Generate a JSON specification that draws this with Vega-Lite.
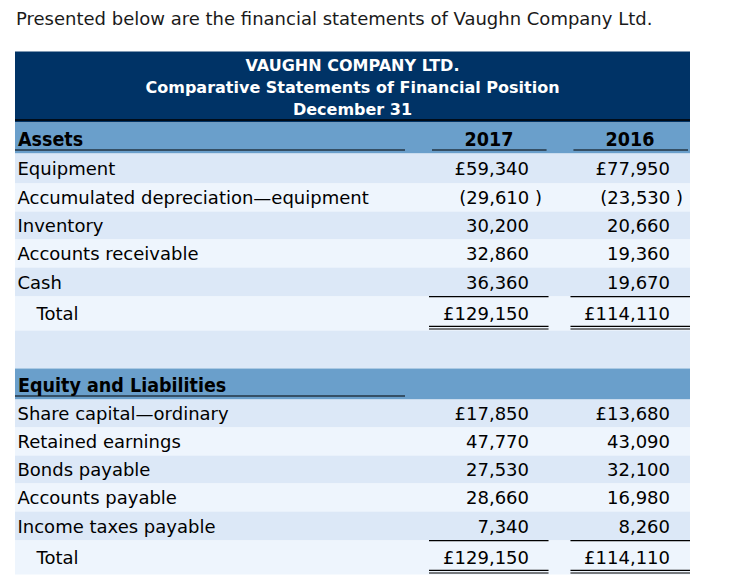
{
  "$schema": "https://vega.github.io/schema/vega-lite/v6.json",
  "width": 675,
  "height": 523,
  "autosize": {"type": "none"},
  "padding": {"left": 15, "top": 51, "right": 44, "bottom": 13},
  "background": "white",
  "config": {"view": {"stroke": null}, "text": {"font": "DejaVu Sans", "color": "#000000"}},
  "title": {
    "text": "Presented below are the financial statements of Vaughn Company Ltd.",
    "anchor": "start",
    "frame": "group",
    "font": "DejaVu Sans",
    "fontSize": 18,
    "fontWeight": "normal",
    "color": "#1a1a1a",
    "baseline": "bottom",
    "offset": 4,
    "dx": 1
  },
  "datasets": {
    "heading": [
      {"row": -1, "lines": ["VAUGHN COMPANY LTD.", "Comparative Statements of Financial Position", "December 31"]}
    ],
    "rows": [
      {"row": 0, "kind": "header", "label": "Assets", "level": 0},
      {"row": 1, "kind": "item", "label": "Equipment", "level": 0},
      {"row": 2, "kind": "item", "label": "Accumulated depreciation—equipment", "level": 0},
      {"row": 3, "kind": "item", "label": "Inventory", "level": 0},
      {"row": 4, "kind": "item", "label": "Accounts receivable", "level": 0},
      {"row": 5, "kind": "item", "label": "Cash", "level": 0},
      {"row": 6, "kind": "total", "label": "Total", "level": 1},
      {"row": 7, "kind": "blank", "label": "", "level": 0},
      {"row": 8, "kind": "header", "label": "Equity and Liabilities", "level": 0},
      {"row": 9, "kind": "item", "label": "Share capital—ordinary", "level": 0},
      {"row": 10, "kind": "item", "label": "Retained earnings", "level": 0},
      {"row": 11, "kind": "item", "label": "Bonds payable", "level": 0},
      {"row": 12, "kind": "item", "label": "Accounts payable", "level": 0},
      {"row": 13, "kind": "item", "label": "Income taxes payable", "level": 0},
      {"row": 14, "kind": "total", "label": "Total", "level": 1}
    ],
    "years": [
      {"row": 0, "year": "2017"},
      {"row": 0, "year": "2016"}
    ],
    "cells": [
      {"row": 1, "kind": "item", "year": "2017", "amount": 59340, "display": "£59,340"},
      {"row": 1, "kind": "item", "year": "2016", "amount": 77950, "display": "£77,950"},
      {"row": 2, "kind": "item", "year": "2017", "amount": -29610, "display": "(29,610 )"},
      {"row": 2, "kind": "item", "year": "2016", "amount": -23530, "display": "(23,530 )"},
      {"row": 3, "kind": "item", "year": "2017", "amount": 30200, "display": "30,200"},
      {"row": 3, "kind": "item", "year": "2016", "amount": 20660, "display": "20,660"},
      {"row": 4, "kind": "item", "year": "2017", "amount": 32860, "display": "32,860"},
      {"row": 4, "kind": "item", "year": "2016", "amount": 19360, "display": "19,360"},
      {"row": 5, "kind": "item", "year": "2017", "amount": 36360, "display": "36,360"},
      {"row": 5, "kind": "item", "year": "2016", "amount": 19670, "display": "19,670"},
      {"row": 6, "kind": "total", "year": "2017", "amount": 129150, "display": "£129,150"},
      {"row": 6, "kind": "total", "year": "2016", "amount": 114110, "display": "£114,110"},
      {"row": 9, "kind": "item", "year": "2017", "amount": 17850, "display": "£17,850"},
      {"row": 9, "kind": "item", "year": "2016", "amount": 13680, "display": "£13,680"},
      {"row": 10, "kind": "item", "year": "2017", "amount": 47770, "display": "47,770"},
      {"row": 10, "kind": "item", "year": "2016", "amount": 43090, "display": "43,090"},
      {"row": 11, "kind": "item", "year": "2017", "amount": 27530, "display": "27,530"},
      {"row": 11, "kind": "item", "year": "2016", "amount": 32100, "display": "32,100"},
      {"row": 12, "kind": "item", "year": "2017", "amount": 28660, "display": "28,660"},
      {"row": 12, "kind": "item", "year": "2016", "amount": 16980, "display": "16,980"},
      {"row": 13, "kind": "item", "year": "2017", "amount": 7340, "display": "7,340"},
      {"row": 13, "kind": "item", "year": "2016", "amount": 8260, "display": "8,260"},
      {"row": 14, "kind": "total", "year": "2017", "amount": 129150, "display": "£129,150"},
      {"row": 14, "kind": "total", "year": "2016", "amount": 114110, "display": "£114,110"}
    ]
  },
  "resolve": {"scale": {"x": "independent"}},
  "layer": [
    {
      "data": {"name": "heading"},
      "mark": {"type": "rect", "color": "#003366"},
      "encoding": {
        "y": {"field": "row", "type": "quantitative", "bin": {"step": 1, "extent": [-1, 15], "nice": false}, "axis": null,
              "scale": {"domain": [-1, 0, 1, 2, 3, 4, 5, 6, 7, 8, 9, 10, 11, 12, 13, 14, 15], "range": [0, 71, 102, 132, 160, 188, 216, 245, 279, 317, 348, 376, 404, 432, 460, 489, 523], "zero": false, "nice": false}}
      }
    },
    {
      "data": {"name": "rows"},
      "mark": {"type": "rect"},
      "encoding": {
        "y": {"field": "row", "type": "quantitative", "bin": {"step": 1, "extent": [-1, 15], "nice": false}, "axis": null},
        "color": {
          "condition": [
            {"test": "datum.kind === 'header'", "value": "#6a9fcb"},
            {"test": "datum.row % 2 === 0", "value": "#eef5fd"}
          ],
          "value": "#dce8f7"
        }
      }
    },
    {
      "data": {"name": "heading"},
      "mark": {"type": "rule", "color": "#000000", "strokeWidth": 1.5, "yOffset": -2},
      "encoding": {
        "y": {"field": "row", "type": "quantitative", "bin": {"step": 1, "extent": [-1, 15], "nice": false}, "bandPosition": 1, "axis": null}
      }
    },
    {
      "data": {"name": "heading"},
      "mark": {"type": "text", "color": "#ffffff", "font": "DejaVu Sans", "fontWeight": "bold", "fontSize": 16, "lineHeight": 22, "baseline": "alphabetic", "align": "center", "yOffset": -16},
      "encoding": {
        "y": {"field": "row", "type": "quantitative", "bin": {"step": 1, "extent": [-1, 15], "nice": false}, "axis": null},
        "text": {"field": "lines"}
      }
    },
    {
      "data": {"name": "rows"},
      "transform": [{"filter": "datum.kind === 'header'"}],
      "mark": {"type": "rule", "color": "#000000", "strokeWidth": 1.2, "yOffset": -3},
      "encoding": {
        "x": {"field": "kind", "type": "nominal", "bandPosition": 0, "axis": null,
              "scale": {"type": "band", "domain": ["header"], "range": [0, 390], "paddingInner": 0, "paddingOuter": 0}},
        "x2": {"field": "kind", "bandPosition": 1},
        "y": {"field": "row", "type": "quantitative", "bin": {"step": 1, "extent": [-1, 15], "nice": false}, "bandPosition": 1, "axis": null}
      }
    },
    {
      "data": {"name": "years"},
      "mark": {"type": "rule", "color": "#000000", "strokeWidth": 1.2, "yOffset": -3},
      "encoding": {
        "x": {"field": "year", "type": "nominal", "bandPosition": 0, "axis": null,
              "scale": {"type": "band", "domain": ["2017", "2016"], "range": [417, 673], "paddingInner": 0.19, "paddingOuter": 0}},
        "x2": {"field": "year", "bandPosition": 1},
        "y": {"field": "row", "type": "quantitative", "bin": {"step": 1, "extent": [-1, 15], "nice": false}, "bandPosition": 1, "axis": null}
      }
    },
    {
      "data": {"name": "cells"},
      "transform": [{"filter": "datum.kind === 'total'"}],
      "mark": {"type": "rule", "color": "#000000", "strokeWidth": 1.2, "yOffset": 0.6},
      "encoding": {
        "x": {"field": "year", "type": "nominal", "bandPosition": 0, "axis": null,
              "scale": {"type": "band", "domain": ["2017", "2016"], "range": [414, 675], "paddingInner": 0.155, "paddingOuter": 0}},
        "x2": {"field": "year", "bandPosition": 1},
        "y": {"field": "row", "type": "quantitative", "bin": {"step": 1, "extent": [-1, 15], "nice": false}, "bandPosition": 0, "axis": null}
      }
    },
    {
      "data": {"name": "cells"},
      "transform": [{"filter": "datum.kind === 'total'"}],
      "mark": {"type": "rule", "color": "#000000", "strokeWidth": 1.2, "yOffset": -3.6},
      "encoding": {
        "x": {"field": "year", "type": "nominal", "bandPosition": 0, "axis": null,
              "scale": {"type": "band", "domain": ["2017", "2016"], "range": [414, 675], "paddingInner": 0.155, "paddingOuter": 0}},
        "x2": {"field": "year", "bandPosition": 1},
        "y": {"field": "row", "type": "quantitative", "bin": {"step": 1, "extent": [-1, 15], "nice": false}, "bandPosition": 1, "axis": null}
      }
    },
    {
      "data": {"name": "cells"},
      "transform": [{"filter": "datum.kind === 'total'"}],
      "mark": {"type": "rule", "color": "#000000", "strokeWidth": 1.2, "yOffset": -1},
      "encoding": {
        "x": {"field": "year", "type": "nominal", "bandPosition": 0, "axis": null,
              "scale": {"type": "band", "domain": ["2017", "2016"], "range": [414, 675], "paddingInner": 0.155, "paddingOuter": 0}},
        "x2": {"field": "year", "bandPosition": 1},
        "y": {"field": "row", "type": "quantitative", "bin": {"step": 1, "extent": [-1, 15], "nice": false}, "bandPosition": 1, "axis": null}
      }
    },
    {
      "data": {"name": "rows"},
      "transform": [{"filter": "datum.kind === 'header'"}],
      "mark": {"type": "text", "align": "left", "baseline": "alphabetic", "fontWeight": "bold", "fontSize": 19.5, "font": "DejaVu Sans Condensed", "yOffset": 8.5},
      "encoding": {
        "x": {"field": "level", "type": "quantitative", "axis": null, "scale": {"domain": [0, 1], "range": [3, 22], "zero": false, "nice": false}},
        "y": {"field": "row", "type": "quantitative", "bin": {"step": 1, "extent": [-1, 15], "nice": false}, "axis": null},
        "text": {"field": "label"}
      }
    },
    {
      "data": {"name": "rows"},
      "transform": [{"filter": "datum.kind === 'item' || datum.kind === 'total'"}],
      "mark": {"type": "text", "align": "left", "baseline": "alphabetic", "fontSize": 18, "yOffset": 7},
      "encoding": {
        "x": {"field": "level", "type": "quantitative", "axis": null, "scale": {"domain": [0, 1], "range": [2.5, 21.5], "zero": false, "nice": false}},
        "y": {"field": "row", "type": "quantitative", "bin": {"step": 1, "extent": [-1, 15], "nice": false}, "axis": null},
        "text": {"field": "label"}
      }
    },
    {
      "data": {"name": "years"},
      "mark": {"type": "text", "align": "center", "baseline": "alphabetic", "fontWeight": "bold", "fontSize": 19.5, "font": "DejaVu Sans Condensed", "yOffset": 8.2},
      "encoding": {
        "x": {"field": "year", "type": "nominal", "axis": null, "scale": {"type": "point", "domain": ["2017", "2016"], "range": [474, 615], "padding": 0}},
        "y": {"field": "row", "type": "quantitative", "bin": {"step": 1, "extent": [-1, 15], "nice": false}, "axis": null},
        "text": {"field": "year"}
      }
    },
    {
      "data": {"name": "cells"},
      "transform": [{"filter": "datum.amount >= 0"}],
      "mark": {"type": "text", "align": "right", "baseline": "alphabetic", "fontSize": 18, "yOffset": 7},
      "encoding": {
        "x": {"field": "year", "type": "nominal", "axis": null, "scale": {"type": "point", "domain": ["2017", "2016"], "range": [514, 655], "padding": 0}},
        "y": {"field": "row", "type": "quantitative", "bin": {"step": 1, "extent": [-1, 15], "nice": false}, "axis": null},
        "text": {"field": "display"}
      }
    },
    {
      "data": {"name": "cells"},
      "transform": [{"filter": "datum.amount < 0"}],
      "mark": {"type": "text", "align": "right", "baseline": "alphabetic", "fontSize": 18, "yOffset": 7, "xOffset": 13},
      "encoding": {
        "x": {"field": "year", "type": "nominal", "axis": null, "scale": {"type": "point", "domain": ["2017", "2016"], "range": [514, 655], "padding": 0}},
        "y": {"field": "row", "type": "quantitative", "bin": {"step": 1, "extent": [-1, 15], "nice": false}, "axis": null},
        "text": {"field": "display"}
      }
    }
  ]
}
